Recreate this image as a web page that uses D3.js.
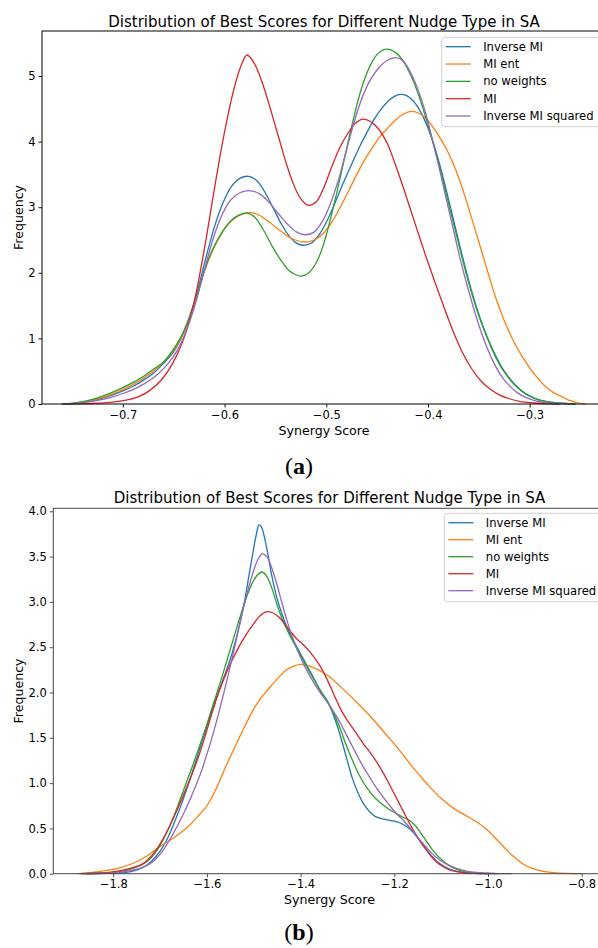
<!DOCTYPE html>
<html>
<head>
<meta charset="utf-8">
<script src="https://cdn.jsdelivr.net/npm/d3@7"></script>
<style>
  html, body { margin: 0; padding: 0; background: #fff; }
  svg { display: block; }
  text { font-family: "DejaVu Sans", sans-serif; fill: #000; }
</style>
</head>
<body>
<svg id="fig" width="598" height="948"></svg>
<script>
// Series names and colours (matplotlib tab10 order)
const seriesNames = ["Inverse MI", "MI ent", "no weights", "MI", "Inverse MI squared"];
const seriesColors = ["#1f77b4", "#ff7f0e", "#2ca02c", "#d62728", "#9467bd"];

// Panel (a): KDE of synergy scores, [score, density]
const aInverseMI = [[-0.76,0],[-0.75,0.007],[-0.74,0.024],[-0.73,0.05],[-0.72,0.09],[-0.71,0.14],[-0.70,0.2],[-0.69,0.27],[-0.68,0.36],[-0.67,0.47],[-0.66,0.62],[-0.65,0.8],[-0.643,0.99],[-0.636,1.24],[-0.627,1.7],[-0.618,2.25],[-0.61,2.7],[-0.602,3.05],[-0.594,3.3],[-0.585,3.44],[-0.576,3.47],[-0.568,3.4],[-0.56,3.22],[-0.552,2.98],[-0.544,2.74],[-0.537,2.57],[-0.53,2.46],[-0.523,2.42],[-0.515,2.45],[-0.507,2.58],[-0.499,2.8],[-0.491,3.08],[-0.483,3.38],[-0.475,3.66],[-0.467,3.93],[-0.46,4.14],[-0.453,4.34],[-0.446,4.5],[-0.439,4.62],[-0.433,4.69],[-0.427,4.72],[-0.421,4.7],[-0.415,4.63],[-0.409,4.5],[-0.403,4.32],[-0.396,4.04],[-0.389,3.68],[-0.382,3.26],[-0.374,2.75],[-0.366,2.24],[-0.358,1.77],[-0.349,1.32],[-0.341,0.99],[-0.333,0.72],[-0.325,0.5],[-0.316,0.32],[-0.308,0.2],[-0.3,0.12],[-0.29,0.06],[-0.28,0.03],[-0.265,0.008],[-0.255,0]];
const aMIent = [[-0.76,0],[-0.75,0.008],[-0.74,0.028],[-0.73,0.06],[-0.72,0.1],[-0.71,0.155],[-0.70,0.22],[-0.69,0.3],[-0.68,0.39],[-0.67,0.5],[-0.66,0.64],[-0.65,0.82],[-0.643,1.0],[-0.636,1.25],[-0.627,1.67],[-0.618,2.1],[-0.61,2.4],[-0.602,2.62],[-0.594,2.78],[-0.585,2.88],[-0.575,2.92],[-0.565,2.87],[-0.555,2.76],[-0.545,2.64],[-0.535,2.53],[-0.523,2.47],[-0.512,2.5],[-0.503,2.6],[-0.495,2.76],[-0.487,2.98],[-0.478,3.25],[-0.47,3.5],[-0.462,3.73],[-0.455,3.9],[-0.448,4.06],[-0.44,4.2],[-0.432,4.33],[-0.424,4.42],[-0.417,4.46],[-0.41,4.44],[-0.403,4.37],[-0.396,4.24],[-0.389,4.08],[-0.382,3.89],[-0.374,3.62],[-0.366,3.28],[-0.358,2.88],[-0.349,2.42],[-0.341,2.0],[-0.333,1.6],[-0.325,1.27],[-0.316,0.96],[-0.308,0.74],[-0.3,0.55],[-0.292,0.39],[-0.284,0.26],[-0.276,0.17],[-0.267,0.1],[-0.26,0.05],[-0.252,0.015],[-0.245,0]];
const aNoWeights = [[-0.76,0],[-0.75,0.01],[-0.74,0.035],[-0.73,0.07],[-0.72,0.12],[-0.71,0.18],[-0.70,0.25],[-0.69,0.33],[-0.68,0.42],[-0.67,0.53],[-0.66,0.64],[-0.65,0.84],[-0.643,1.02],[-0.636,1.27],[-0.627,1.68],[-0.618,2.12],[-0.61,2.41],[-0.602,2.63],[-0.594,2.79],[-0.586,2.88],[-0.578,2.91],[-0.571,2.86],[-0.562,2.66],[-0.553,2.4],[-0.545,2.2],[-0.537,2.04],[-0.53,1.97],[-0.525,1.95],[-0.518,1.99],[-0.51,2.15],[-0.503,2.42],[-0.497,2.75],[-0.49,3.2],[-0.482,3.75],[-0.474,4.3],[-0.466,4.78],[-0.458,5.12],[-0.45,5.33],[-0.441,5.41],[-0.432,5.36],[-0.424,5.22],[-0.416,4.98],[-0.409,4.7],[-0.402,4.36],[-0.395,3.98],[-0.388,3.58],[-0.382,3.2],[-0.374,2.7],[-0.366,2.2],[-0.358,1.74],[-0.349,1.3],[-0.341,0.98],[-0.333,0.7],[-0.325,0.49],[-0.316,0.31],[-0.308,0.2],[-0.3,0.12],[-0.29,0.06],[-0.28,0.03],[-0.265,0.008],[-0.255,0]];
const aMI = [[-0.755,0],[-0.73,0.01],[-0.71,0.03],[-0.697,0.06],[-0.685,0.11],[-0.674,0.2],[-0.662,0.37],[-0.651,0.62],[-0.64,1.0],[-0.63,1.55],[-0.62,2.35],[-0.61,3.28],[-0.60,4.15],[-0.59,4.85],[-0.584,5.15],[-0.578,5.32],[-0.571,5.2],[-0.563,4.9],[-0.555,4.5],[-0.546,4.02],[-0.539,3.65],[-0.533,3.38],[-0.526,3.15],[-0.518,3.03],[-0.51,3.08],[-0.503,3.28],[-0.495,3.6],[-0.487,3.9],[-0.479,4.12],[-0.472,4.27],[-0.465,4.34],[-0.457,4.31],[-0.449,4.2],[-0.44,3.97],[-0.431,3.6],[-0.423,3.24],[-0.415,2.86],[-0.407,2.48],[-0.398,2.07],[-0.39,1.72],[-0.382,1.38],[-0.374,1.06],[-0.366,0.78],[-0.358,0.56],[-0.349,0.37],[-0.34,0.24],[-0.33,0.14],[-0.32,0.08],[-0.31,0.04],[-0.295,0.015],[-0.28,0.004],[-0.27,0]];
const aInverseMISq = [[-0.76,0],[-0.75,0.005],[-0.74,0.018],[-0.73,0.04],[-0.72,0.07],[-0.71,0.11],[-0.70,0.16],[-0.69,0.22],[-0.68,0.3],[-0.67,0.4],[-0.66,0.54],[-0.65,0.73],[-0.643,0.92],[-0.636,1.18],[-0.627,1.62],[-0.618,2.15],[-0.61,2.58],[-0.602,2.9],[-0.594,3.11],[-0.585,3.22],[-0.574,3.25],[-0.565,3.2],[-0.556,3.07],[-0.547,2.9],[-0.538,2.74],[-0.529,2.62],[-0.52,2.58],[-0.512,2.62],[-0.504,2.78],[-0.496,3.05],[-0.488,3.42],[-0.48,3.88],[-0.472,4.33],[-0.464,4.7],[-0.456,4.96],[-0.448,5.13],[-0.44,5.24],[-0.431,5.28],[-0.424,5.22],[-0.417,5.05],[-0.41,4.8],[-0.403,4.47],[-0.396,4.05],[-0.389,3.6],[-0.382,3.12],[-0.375,2.66],[-0.369,2.25],[-0.361,1.78],[-0.352,1.3],[-0.344,0.94],[-0.336,0.65],[-0.328,0.43],[-0.32,0.28],[-0.312,0.17],[-0.304,0.1],[-0.295,0.05],[-0.285,0.02],[-0.27,0.005],[-0.26,0]];

// Panel (b)
const bInverseMI = [[-1.86,0],[-1.82,0.004],[-1.78,0.01],[-1.76,0.025],[-1.74,0.06],[-1.72,0.13],[-1.70,0.25],[-1.685,0.38],[-1.67,0.56],[-1.655,0.76],[-1.64,0.98],[-1.625,1.22],[-1.61,1.47],[-1.595,1.71],[-1.58,1.94],[-1.565,2.15],[-1.55,2.37],[-1.535,2.65],[-1.52,3.0],[-1.51,3.3],[-1.5,3.6],[-1.494,3.76],[-1.489,3.85],[-1.484,3.83],[-1.478,3.73],[-1.47,3.53],[-1.462,3.3],[-1.451,3.05],[-1.44,2.87],[-1.429,2.72],[-1.41,2.52],[-1.39,2.33],[-1.37,2.14],[-1.357,2.01],[-1.346,1.93],[-1.336,1.83],[-1.325,1.68],[-1.314,1.5],[-1.3,1.24],[-1.29,1.06],[-1.28,0.92],[-1.27,0.81],[-1.26,0.73],[-1.25,0.67],[-1.24,0.63],[-1.229,0.61],[-1.215,0.595],[-1.2,0.58],[-1.19,0.565],[-1.18,0.54],[-1.168,0.5],[-1.157,0.44],[-1.145,0.36],[-1.133,0.28],[-1.121,0.2],[-1.11,0.14],[-1.1,0.1],[-1.086,0.06],[-1.07,0.03],[-1.05,0.012],[-1.03,0.004],[-1.0,0]];
const bMIent = [[-1.876,0],[-1.85,0.012],[-1.82,0.03],[-1.79,0.06],[-1.76,0.11],[-1.73,0.19],[-1.70,0.3],[-1.67,0.4],[-1.64,0.52],[-1.62,0.63],[-1.60,0.75],[-1.58,0.94],[-1.56,1.18],[-1.543,1.37],[-1.52,1.62],[-1.50,1.82],[-1.486,1.93],[-1.47,2.03],[-1.45,2.15],[-1.43,2.25],[-1.415,2.29],[-1.40,2.31],[-1.37,2.27],[-1.34,2.18],[-1.31,2.04],[-1.28,1.89],[-1.25,1.73],[-1.22,1.55],[-1.19,1.37],[-1.16,1.17],[-1.13,0.99],[-1.10,0.83],[-1.07,0.71],[-1.04,0.62],[-1.01,0.52],[-0.98,0.37],[-0.95,0.21],[-0.92,0.09],[-0.89,0.035],[-0.86,0.012],[-0.83,0.003],[-0.80,0]];
const bNoWeights = [[-1.87,0],[-1.83,0.005],[-1.8,0.015],[-1.775,0.035],[-1.755,0.065],[-1.735,0.11],[-1.72,0.17],[-1.705,0.27],[-1.69,0.41],[-1.675,0.58],[-1.66,0.78],[-1.645,0.99],[-1.63,1.2],[-1.615,1.42],[-1.6,1.65],[-1.586,1.88],[-1.571,2.12],[-1.557,2.36],[-1.543,2.6],[-1.529,2.84],[-1.515,3.06],[-1.503,3.21],[-1.492,3.3],[-1.482,3.33],[-1.472,3.28],[-1.462,3.16],[-1.451,2.98],[-1.44,2.82],[-1.43,2.7],[-1.42,2.6],[-1.4,2.41],[-1.38,2.22],[-1.36,2.04],[-1.346,1.93],[-1.336,1.84],[-1.325,1.72],[-1.314,1.58],[-1.302,1.41],[-1.29,1.26],[-1.278,1.12],[-1.264,0.99],[-1.25,0.89],[-1.236,0.81],[-1.222,0.75],[-1.208,0.7],[-1.193,0.655],[-1.18,0.62],[-1.168,0.59],[-1.157,0.54],[-1.145,0.46],[-1.133,0.37],[-1.121,0.28],[-1.11,0.21],[-1.098,0.15],[-1.086,0.1],[-1.07,0.055],[-1.05,0.022],[-1.03,0.008],[-1.0,0.002],[-0.98,0]];
const bMI = [[-1.87,0],[-1.84,0.005],[-1.81,0.015],[-1.785,0.035],[-1.76,0.065],[-1.74,0.1],[-1.725,0.16],[-1.71,0.25],[-1.695,0.37],[-1.68,0.52],[-1.665,0.69],[-1.65,0.87],[-1.635,1.06],[-1.62,1.26],[-1.605,1.5],[-1.59,1.76],[-1.575,2.0],[-1.56,2.2],[-1.545,2.37],[-1.53,2.52],[-1.515,2.65],[-1.5,2.76],[-1.488,2.84],[-1.4735,2.89],[-1.46,2.88],[-1.446,2.83],[-1.433,2.75],[-1.421,2.67],[-1.408,2.59],[-1.395,2.53],[-1.382,2.46],[-1.37,2.38],[-1.357,2.28],[-1.346,2.17],[-1.336,2.06],[-1.325,1.93],[-1.313,1.8],[-1.3,1.69],[-1.288,1.6],[-1.276,1.51],[-1.264,1.42],[-1.252,1.34],[-1.24,1.25],[-1.229,1.16],[-1.217,1.05],[-1.205,0.93],[-1.193,0.81],[-1.18,0.68],[-1.168,0.56],[-1.157,0.46],[-1.145,0.36],[-1.133,0.27],[-1.121,0.19],[-1.11,0.13],[-1.098,0.085],[-1.086,0.05],[-1.07,0.025],[-1.05,0.01],[-1.03,0.003],[-1.0,0]];
const bInverseMISq = [[-1.86,0],[-1.82,0.004],[-1.79,0.012],[-1.765,0.03],[-1.745,0.055],[-1.725,0.1],[-1.71,0.16],[-1.695,0.25],[-1.68,0.37],[-1.667,0.49],[-1.654,0.62],[-1.641,0.76],[-1.628,0.92],[-1.614,1.1],[-1.6,1.32],[-1.586,1.56],[-1.572,1.83],[-1.558,2.12],[-1.543,2.45],[-1.528,2.8],[-1.514,3.1],[-1.503,3.3],[-1.492,3.46],[-1.482,3.53],[-1.472,3.5],[-1.462,3.38],[-1.451,3.2],[-1.44,2.99],[-1.43,2.81],[-1.421,2.66],[-1.408,2.48],[-1.395,2.33],[-1.38,2.18],[-1.365,2.05],[-1.35,1.94],[-1.336,1.84],[-1.325,1.75],[-1.314,1.65],[-1.3,1.51],[-1.288,1.39],[-1.276,1.27],[-1.264,1.16],[-1.252,1.06],[-1.24,0.96],[-1.229,0.88],[-1.217,0.8],[-1.205,0.72],[-1.193,0.65],[-1.181,0.59],[-1.169,0.52],[-1.157,0.45],[-1.145,0.37],[-1.133,0.3],[-1.121,0.23],[-1.11,0.18],[-1.098,0.135],[-1.086,0.1],[-1.07,0.065],[-1.05,0.035],[-1.03,0.017],[-1.0,0.005],[-0.97,0.001],[-0.95,0]];

// Tick values
const aXTicks = [-0.7, -0.6, -0.5, -0.4, -0.3];
const aYTicks = [0, 1, 2, 3, 4, 5];
const bXTicks = [-1.8, -1.6, -1.4, -1.2, -1.0, -0.8];
const bYTicks = [0, 0.5, 1, 1.5, 2, 2.5, 3, 3.5, 4];

const titleText = "Distribution of Best Scores for Different Nudge Type in SA";

const svg = d3.select("#fig");

function minusFmt(fmt) {
  const f = d3.format(fmt);
  return v => f(v).replace("-", "\u2212");
}

function drawPanel(cfg) {
  const g = svg.append("g");
  const x = d3.scaleLinear().domain(cfg.xDomain).range([cfg.left, cfg.right]);
  const y = d3.scaleLinear().domain(cfg.yDomain).range([cfg.bottom, cfg.top]);

  const line = d3.line()
    .x(d => x(d[0])).y(d => y(d[1]))
    .curve(d3.curveCatmullRom.alpha(0.5));

  cfg.series.forEach((s, i) => {
    g.append("path")
      .attr("d", line(s))
      .attr("fill", "none")
      .attr("stroke", seriesColors[i])
      .attr("stroke-width", 1.3);
  });

  // Spines
  g.append("rect")
    .attr("x", cfg.left).attr("y", cfg.top)
    .attr("width", cfg.right - cfg.left).attr("height", cfg.bottom - cfg.top)
    .attr("fill", "none").attr("stroke", cfg.spine).attr("stroke-width", 1);

  // Axes
  const xAxis = d3.axisBottom(x).tickValues(cfg.xTicks).tickFormat(minusFmt(".1f")).tickSize(3.5).tickPadding(3);
  const yAxis = d3.axisLeft(y).tickValues(cfg.yTicks).tickFormat(minusFmt(cfg.yFmt)).tickSize(3.5).tickPadding(3);
  const gx = g.append("g").attr("transform", `translate(0,${cfg.bottom})`).call(xAxis);
  const gy = g.append("g").attr("transform", `translate(${cfg.left},0)`).call(yAxis);
  [gx, gy].forEach(a => {
    a.select(".domain").remove();
    a.selectAll("line").attr("stroke", cfg.spine).attr("stroke-width", 0.9);
    a.selectAll("text").attr("font-family", "DejaVu Sans").attr("font-size", 11.5).attr("fill", "#000");
  });

  // Title and axis labels
  g.append("text").attr("x", cfg.titleX).attr("y", cfg.titleY)
    .attr("text-anchor", "middle").attr("font-size", 15).text(titleText);
  g.append("text").attr("x", cfg.titleX).attr("y", cfg.xLabelY)
    .attr("text-anchor", "middle").attr("font-size", 12.6).text("Synergy Score");
  g.append("text")
    .attr("transform", `translate(${cfg.yLabelX},${(cfg.top + cfg.bottom) / 2}) rotate(-90)`)
    .attr("text-anchor", "middle").attr("font-size", 12.6).text("Frequency");

  // Legend
  const lg = g.append("g");
  lg.append("rect")
    .attr("x", cfg.legX).attr("y", cfg.legTop)
    .attr("width", 170).attr("height", cfg.legBottom - cfg.legTop)
    .attr("rx", 3).attr("ry", 3)
    .attr("fill", "#fff").attr("fill-opacity", 0.8)
    .attr("stroke", "#d0d0d0").attr("stroke-width", 1);
  seriesNames.forEach((name, i) => {
    const cy = cfg.legRow0 + i * cfg.legStep;
    lg.append("line")
      .attr("x1", cfg.legX + 4).attr("x2", cfg.legX + 29)
      .attr("y1", cy).attr("y2", cy)
      .attr("stroke", seriesColors[i]).attr("stroke-width", 1.3);
    lg.append("text")
      .attr("x", cfg.legX + 41.5).attr("y", cy + 4)
      .attr("font-size", 11.6).text(name);
  });

  // Sub-figure caption
  const cap = g.append("text").attr("x", cfg.capX).attr("y", cfg.capY)
    .attr("text-anchor", "middle")
    .style("font-family", "'Liberation Serif', serif").attr("font-size", 24);
  cap.append("tspan").text("(");
  cap.append("tspan").attr("font-weight", "bold").text(cfg.capLetter);
  cap.append("tspan").text(")");
}

drawPanel({
  series: [aInverseMI, aMIent, aNoWeights, aMI, aInverseMISq],
  xDomain: [-0.7795, -0.2299], yDomain: [0, 5.686],
  left: 42, right: 601, top: 31, bottom: 404,
  xTicks: aXTicks, yTicks: aYTicks, yFmt: "d",
  spine: "#000",
  titleX: 324, titleY: 26.5, xLabelY: 434.5, yLabelX: 22.5,
  legX: 441.7, legTop: 37.3, legBottom: 126.7, legRow0: 46.7, legStep: 17.33,
  capX: 299, capY: 474, capLetter: "a"
});

drawPanel({
  series: [bInverseMI, bMIent, bNoWeights, bMI, bInverseMISq],
  xDomain: [-1.928, -0.746], yDomain: [0, 4.033],
  left: 53.3, right: 607, top: 508.3, bottom: 873.7,
  xTicks: bXTicks, yTicks: bYTicks, yFmt: ".1f",
  spine: "#444",
  titleX: 329.5, titleY: 503, xLabelY: 903.5, yLabelX: 22.5,
  legX: 444.3, legTop: 513.3, legBottom: 601.7, legRow0: 522.7, legStep: 17.0,
  capX: 299, capY: 940, capLetter: "b"
});
</script>
</body>
</html>
